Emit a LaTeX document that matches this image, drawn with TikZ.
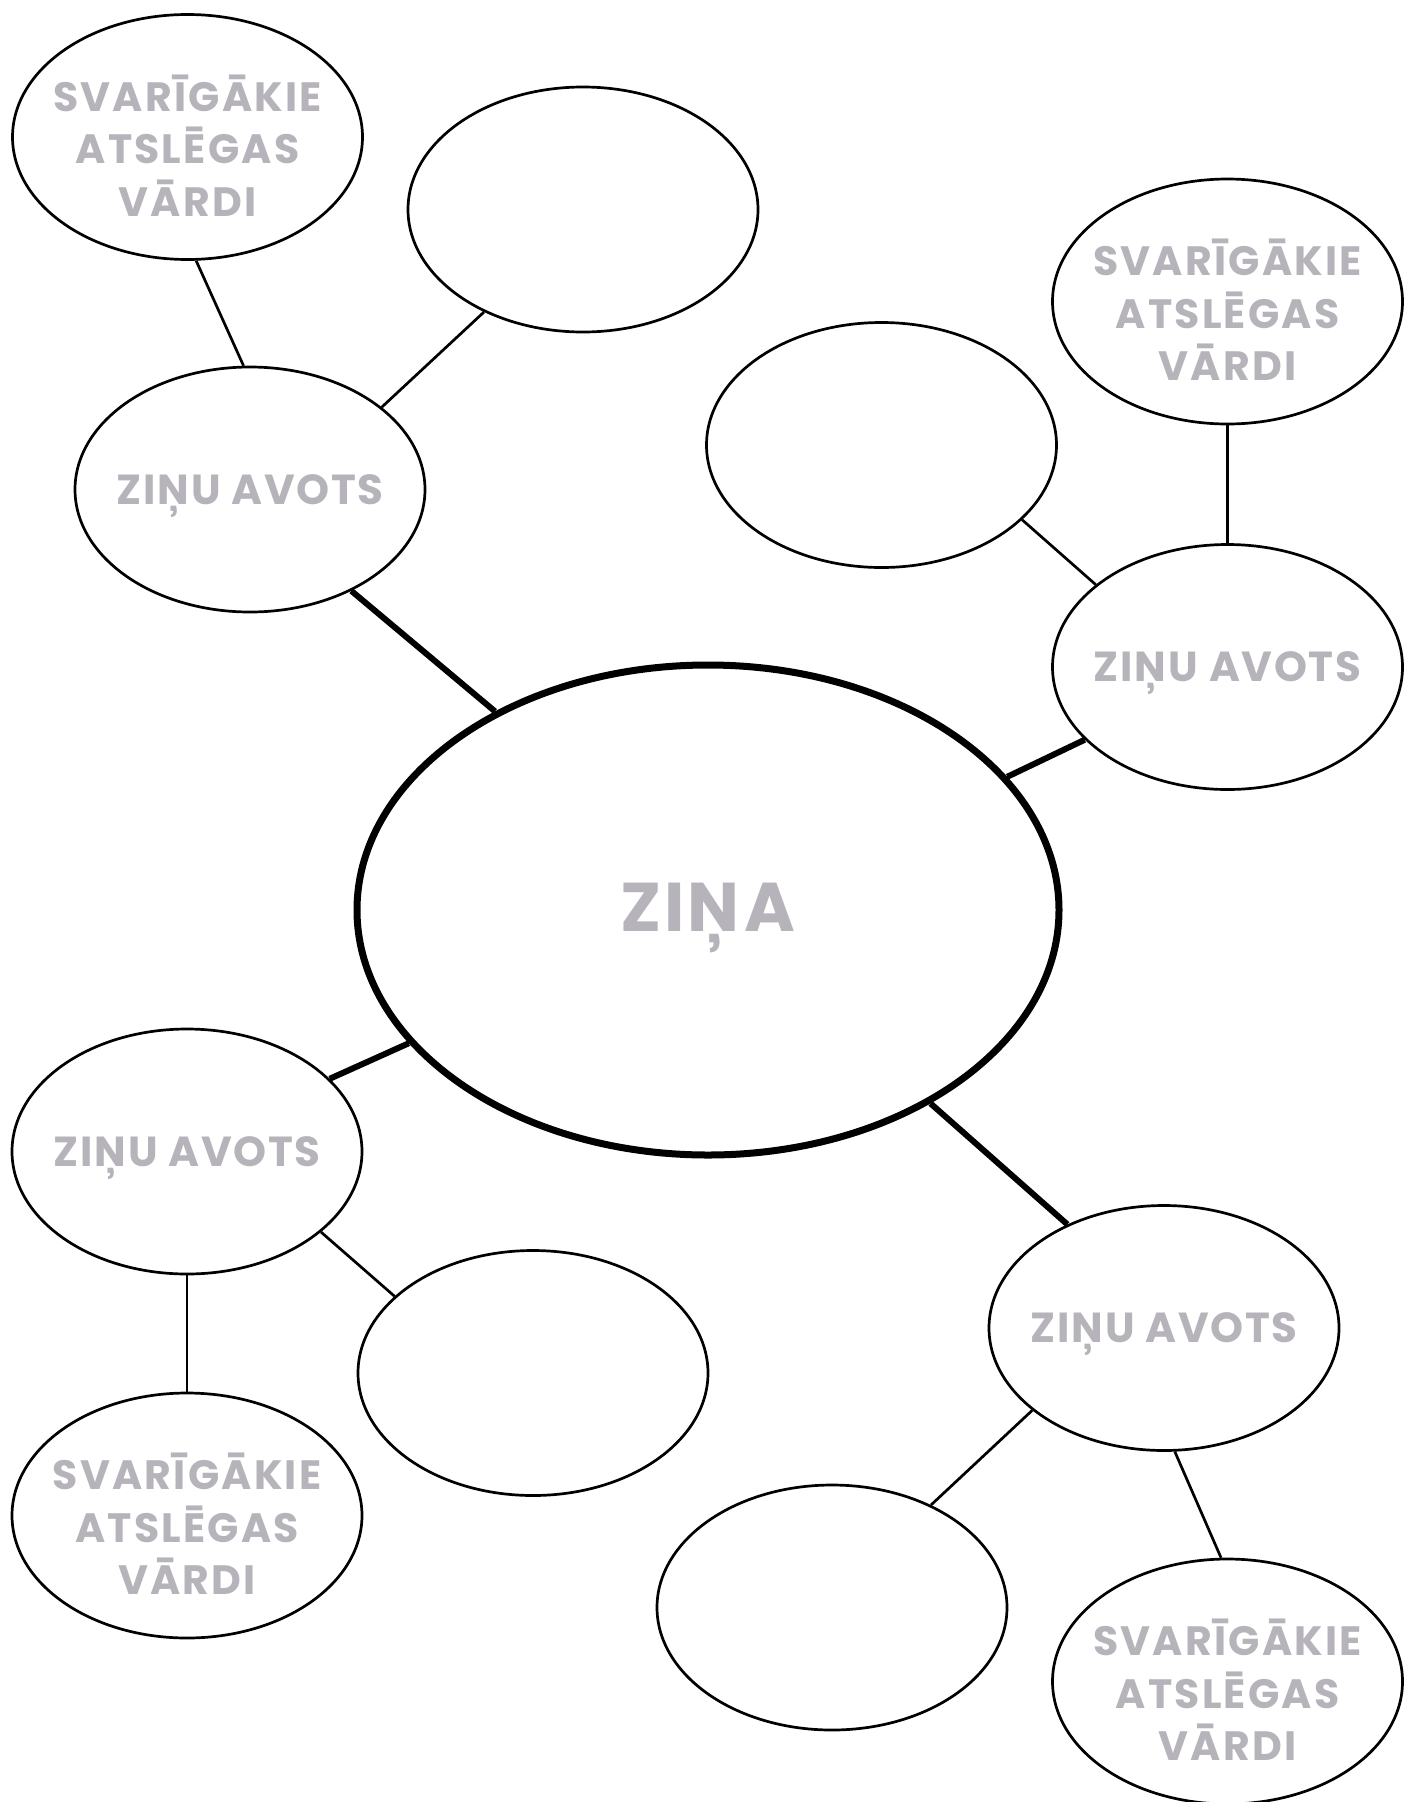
\documentclass[tikz,border=0pt]{standalone}
\usepackage{fontspec}
\setmainfont{Poppins}
\usetikzlibrary{shapes.geometric}
\definecolor{txtgray}{RGB}{182,180,186}
\tikzset{
  ell/.style={ellipse, draw=black, line width=2.7pt, minimum width=350pt, minimum height=245pt, inner sep=0pt, fill=white},
  bigell/.style={ellipse, draw=black, line width=7pt, minimum width=702pt, minimum height=490pt, inner sep=0pt, fill=white},
  thin/.style={line width=2.7pt},
  thick/.style={line width=6pt},
  ztxt/.style={text=txtgray, inner sep=0pt, anchor=base, font=\fontsize{42}{50}\selectfont\bfseries\addfontfeature{LetterSpace=4}},
  ktxt/.style={text=txtgray, inner sep=0pt, anchor=base, align=center, font=\fontsize{41}{52.5}\selectfont\bfseries\addfontfeature{LetterSpace=5.5}},
  ctxt/.style={text=txtgray, inner sep=0pt, anchor=base, font=\fontsize{69}{80}\selectfont\bfseries\addfontfeature{LetterSpace=4}},
}
\begin{document}
\begin{tikzpicture}[x=1pt,y=-1pt]
\useasboundingbox[fill=white] (0,0) rectangle (1404,1802);
% ellipses
\node[ell] (kw1) at (187.5,137) {};
\node[ell] (b2) at (583,209.5) {};
\node[ell] (za1) at (250,489.5) {};
\node[ell] (kw4) at (1227.5,301.5) {};
\node[ell] (b5) at (881.5,445) {};
\node[ell] (za2) at (1227.5,667) {};
\node[bigell] (c) at (708,910) {};
\node[ell] (za3) at (187,1151.5) {};
\node[ell] (b9) at (533,1373) {};
\node[ell] (kw10) at (187,1515.5) {};
\node[ell] (za11) at (1164,1328) {};
\node[ell] (b12) at (832,1607.5) {};
\node[ell] (kw13) at (1227.5,1681.5) {};
% texts
\node[ctxt] (ct) at ([yshift=-21.7pt]c.center) {ZIŅA};
\node[ztxt] (za1t) at ([yshift=-14.6pt]za1.center) {ZIŅU AVOTS};
\node[ztxt] (za2t) at ([yshift=-14.6pt]za2.center) {ZIŅU AVOTS};
\node[ztxt] (za3t) at ([yshift=-14.6pt]za3.center) {ZIŅU AVOTS};
\node[ztxt] (za11t) at ([yshift=-14.6pt]za11.center) {ZIŅU AVOTS};
\node[ktxt] (kw1t) at ([yshift=-79pt]kw1.center) {SVARĪGĀKIE\\ATSLĒGAS\\VĀRDI};
\node[ktxt] (kw4t) at ([yshift=-79pt]kw4.center) {SVARĪGĀKIE\\ATSLĒGAS\\VĀRDI};
\node[ktxt] (kw10t) at ([yshift=-79pt]kw10.center) {SVARĪGĀKIE\\ATSLĒGAS\\VĀRDI};
\node[ktxt] (kw13t) at ([yshift=-79pt]kw13.center) {SVARĪGĀKIE\\ATSLĒGAS\\VĀRDI};
% connectors
\draw[thin] (kw1.-86) -- (za1.93.7);
\draw[thin] (b2.226.4) -- (za1.32.4);
\draw[thick] (za1.-45.7) -- (c.137.9);
\draw[thin] (kw4.south) -- (za2.north);
\draw[thin] (b5.-28.2) -- (za2.148.3);
\draw[thick] (za2.207.1) -- (c.24.5);
\draw[thick] (c.204) -- (za3.27.6);
\draw[thin] (za3.-31.6) -- (b9.151.5);
\draw[thin] (za3.south) -- (kw10.north);
\draw[thick] (c.-41.5) -- (za11.133.9);
\draw[thin] (za11.212.6) -- (b12.46.9);
\draw[thin] (za11.-85.9) -- (kw13.93.5);
\end{tikzpicture}
\end{document}
